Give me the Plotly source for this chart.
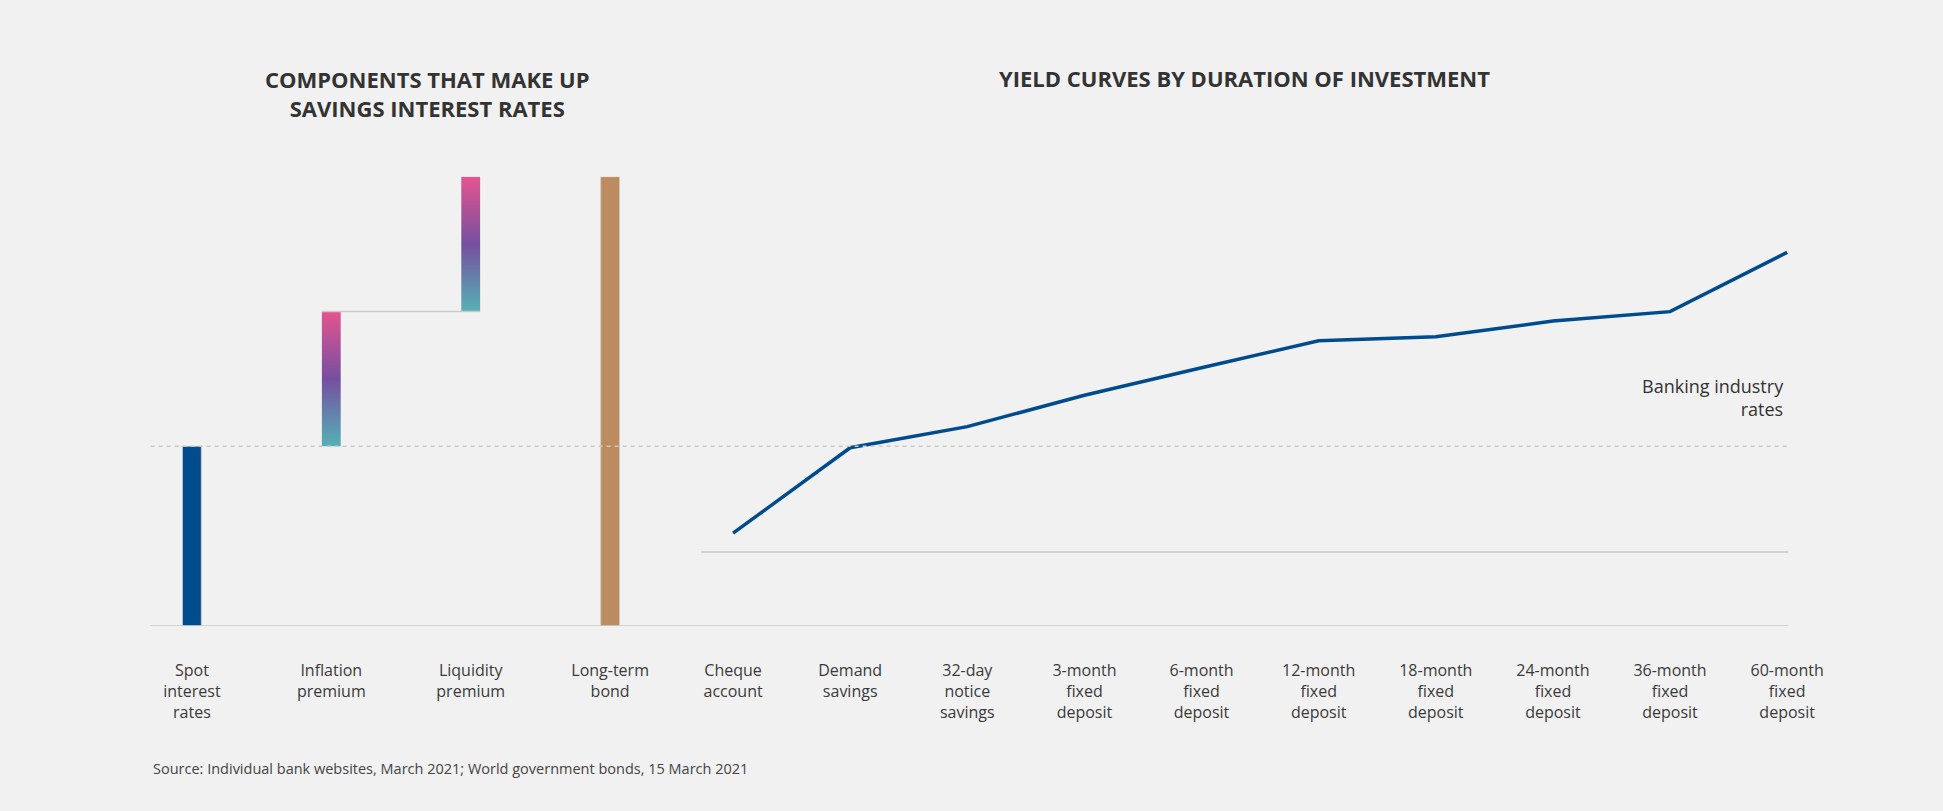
import plotly.graph_objects as go

# ---- Data -------------------------------------------------------------
component_labels = ["Spot<br>interest<br>rates", "Inflation<br>premium",
                    "Liquidity<br>premium", "Long-term<br>bond"]
spot_rate = 4.0
inflation_premium = 3.0
liquidity_premium = 3.0
long_term_bond = 10.0

product_labels = ["Cheque<br>account", "Demand<br>savings", "32-day<br>notice<br>savings",
                  "3-month<br>fixed<br>deposit", "6-month<br>fixed<br>deposit",
                  "12-month<br>fixed<br>deposit", "18-month<br>fixed<br>deposit",
                  "24-month<br>fixed<br>deposit", "36-month<br>fixed<br>deposit",
                  "60-month<br>fixed<br>deposit"]
product_rates = [0.42, 2.32, 2.79, 3.49, 4.10, 4.70, 4.79, 5.14, 5.35, 6.67]

# ---- Styling ----------------------------------------------------------
W, H = 1943, 811
BG = "#f1f1f1"
BLUE = "#004b8d"
BRONZE = "#bc8b5f"
GRID = "#c9c9c9"
TEXT = "#333333"
FONT = "Open Sans"
BAR_W = 0.135
GRADIENT = [[0.0, "#55b1b6"], [0.5, "#754fa0"], [1.0, "#e5548f"]]


def px_x(p):
    return p / W


def px_y(p):
    return 1 - p / H


# y domain shared by both panels (pixel rows 626 .. 176.7)
y_dom = [px_y(626), px_y(176.7)]
left_range = [0, long_term_bond]
units_per_px = (left_range[1] - left_range[0]) / (626 - 176.7)
right_offset = (626 - 552) * units_per_px
right_range = [-right_offset, left_range[1] - right_offset]

fig = go.Figure()

# Solid bars: spot rate and long-term bond
fig.add_trace(go.Bar(
    x=[0, 3], y=[spot_rate, long_term_bond], width=BAR_W,
    marker=dict(color=[BLUE, BRONZE], line=dict(color="rgba(205,205,205,0.8)", width=1)),
    xaxis="x", yaxis="y", hoverinfo="skip", showlegend=False,
))

# Gradient-filled floating bars for the premiums
floating = [(1, spot_rate, inflation_premium),
            (2, spot_rate + inflation_premium, liquidity_premium)]
for idx, base, val in floating:
    x0, x1 = idx - BAR_W / 2, idx + BAR_W / 2
    fig.add_trace(go.Scatter(
        x=[x0, x1, x1, x0, x0], y=[base, base, base + val, base + val, base],
        mode="lines", line=dict(width=0), fill="toself",
        fillgradient=dict(type="vertical", colorscale=GRADIENT),
        xaxis="x", yaxis="y", hoverinfo="skip", showlegend=False,
    ))

# Yield curve
fig.add_trace(go.Scatter(
    x=list(range(len(product_rates))), y=product_rates, mode="lines",
    line=dict(color=BLUE, width=3.5),
    xaxis="x2", yaxis="y2", hoverinfo="skip", showlegend=False,
))

shapes = [
    # spot-rate reference across both panels
    dict(type="line", xref="paper", yref="y", x0=px_x(146), x1=px_x(1800),
         y0=spot_rate, y1=spot_rate, line=dict(color=GRID, width=1.5, dash="4px,4px")),
    # left baseline
    dict(type="line", xref="paper", yref="y", x0=px_x(146), x1=px_x(1800),
         y0=0, y1=0, line=dict(color=GRID, width=1.5)),
    # right baseline
    dict(type="line", xref="paper", yref="y2", x0=px_x(702), x1=px_x(1800),
         y0=0, y1=0, line=dict(color=GRID, width=1.5)),
    # connector between premium bars
    dict(type="line", xref="x", yref="y", x0=1 - BAR_W / 2, x1=2 + BAR_W / 2,
         y0=spot_rate + inflation_premium, y1=spot_rate + inflation_premium,
         line=dict(color=GRID, width=1.5)),
]

annotations = [
    dict(text="<b>COMPONENTS THAT MAKE UP<br>SAVINGS INTEREST RATES</b>",
         xref="paper", yref="paper", x=px_x(425), y=px_y(93), xanchor="center",
         yanchor="middle", showarrow=False, align="center",
         font=dict(family=FONT, size=22, color=TEXT)),
    dict(text="<b>YIELD CURVES BY DURATION OF INVESTMENT</b>",
         xref="paper", yref="paper", x=px_x(1251), y=px_y(78), xanchor="center",
         yanchor="middle", showarrow=False,
         font=dict(family=FONT, size=22, color=TEXT)),
    dict(text="Banking industry<br>rates", xref="paper", yref="paper",
         x=px_x(1798), y=px_y(397.5), xanchor="right", yanchor="middle",
         align="right", showarrow=False,
         font=dict(family=FONT, size=18, color=TEXT)),
    dict(text="Source: Individual bank websites, March 2021; World government bonds, 15 March 2021",
         xref="paper", yref="paper", x=px_x(146), y=px_y(768), xanchor="left",
         yanchor="middle", showarrow=False,
         font=dict(family=FONT, size=14.5, color="#444444")),
]

tick_common = dict(
    showgrid=False, zeroline=False, showline=False, ticks="outside",
    ticklen=30, tickcolor="rgba(0,0,0,0)",
    tickfont=dict(family=FONT, size=16, color="#3a3a3a"), fixedrange=True,
)

fig.update_layout(
    width=W, height=H, autosize=False, margin=dict(l=0, r=0, t=0, b=0),
    paper_bgcolor=BG, plot_bgcolor="rgba(0,0,0,0)", showlegend=False,
    xaxis=dict(domain=[px_x(131.4), px_x(666.4)], range=[-0.4, 3.4],
               tickmode="array", tickvals=list(range(4)), ticktext=component_labels,
               anchor="y", **tick_common),
    yaxis=dict(domain=y_dom, range=left_range, visible=False, anchor="x"),
    xaxis2=dict(domain=[px_x(710.6), px_x(1822.4)], range=[-0.2, 9.2],
                tickmode="array", tickvals=list(range(len(product_labels))),
                ticktext=product_labels, anchor="y2", **tick_common),
    yaxis2=dict(domain=y_dom, range=right_range, visible=False, anchor="x2"),
    shapes=shapes, annotations=annotations,
)

fig.write_html("out.html", config={"responsive": False})
